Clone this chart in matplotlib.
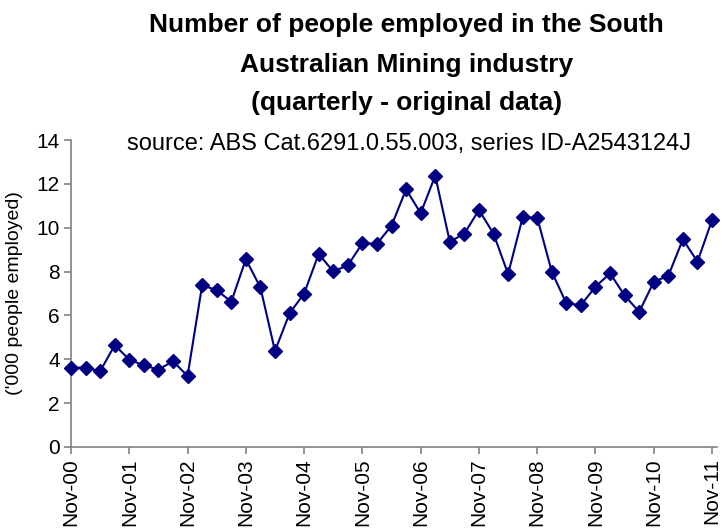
import numpy as np
import matplotlib
matplotlib.use("Agg")
import matplotlib.pyplot as plt

plt.rcParams["font.family"] = ["Liberation Sans", "DejaVu Sans"]

# quarterly observations, Nov-00 .. Nov-11 ('000 people employed)
employed = [3.62, 3.62, 3.46, 4.64, 3.99, 3.72, 3.53, 3.91, 3.24,
            7.37, 7.16, 6.62, 8.56, 7.28, 4.38, 6.09, 7.00, 8.80,
            8.01, 8.28, 9.29, 9.27, 10.09, 11.75, 10.66, 12.37, 9.36,
            9.73, 10.81, 9.73, 7.89, 10.47, 10.46, 7.99, 6.55, 6.47,
            7.31, 7.92, 6.91, 6.16, 7.53, 7.81, 9.47, 8.45, 10.35]
year_labels = ["Nov-00", "Nov-01", "Nov-02", "Nov-03", "Nov-04", "Nov-05",
               "Nov-06", "Nov-07", "Nov-08", "Nov-09", "Nov-10", "Nov-11"]
y_ticks = [0, 2, 4, 6, 8, 10, 12, 14]

W, H = 722, 531
fig = plt.figure(figsize=(W / 100, H / 100), dpi=100)
ax = fig.add_axes([71 / W, 1 - 447 / H, (717 - 71) / W, (447 - 140) / H])

x = np.arange(len(employed))
ax.plot(x, employed, color="#000080", lw=1.5, marker="D", ms=7.5,
        mfc="#000080", mec="#000080", clip_on=False, zorder=3)

ax.set_xlim(0, 44.34)
ax.set_ylim(0, 14)
ax.set_xticks(np.arange(0, len(employed), 4))
ax.set_xticklabels(year_labels, rotation=90, fontsize=15)
ax.set_yticks(y_ticks)
ax.set_yticklabels([str(t) for t in y_ticks], fontsize=15)
ax.set_ylabel("('000 people employed)", fontsize=14)
ax.yaxis.set_label_coords(-(71 - 23) / (717 - 71), 0.5)

for side in ["top", "right"]:
    ax.spines[side].set_visible(False)
for side in ["left", "bottom"]:
    ax.spines[side].set_color("#808080")
    ax.spines[side].set_linewidth(1.2)
ax.tick_params(direction="out", length=5, color="#808080", width=1.2, pad=3)

fig.text(0.563, 1 - 25 / H, "Number of people employed in the South",
         ha="center", va="center", fontsize=19, fontweight="bold")
fig.text(0.563, 1 - 65 / H, "Australian Mining industry",
         ha="center", va="center", fontsize=19, fontweight="bold")
fig.text(0.563, 1 - 103 / H, "(quarterly - original data)",
         ha="center", va="center", fontsize=19, fontweight="bold")
fig.text(0.567, 1 - 144 / H, "source: ABS Cat.6291.0.55.003, series ID-A2543124J",
         ha="center", va="center", fontsize=17)

fig.savefig("out.png", dpi=100)
